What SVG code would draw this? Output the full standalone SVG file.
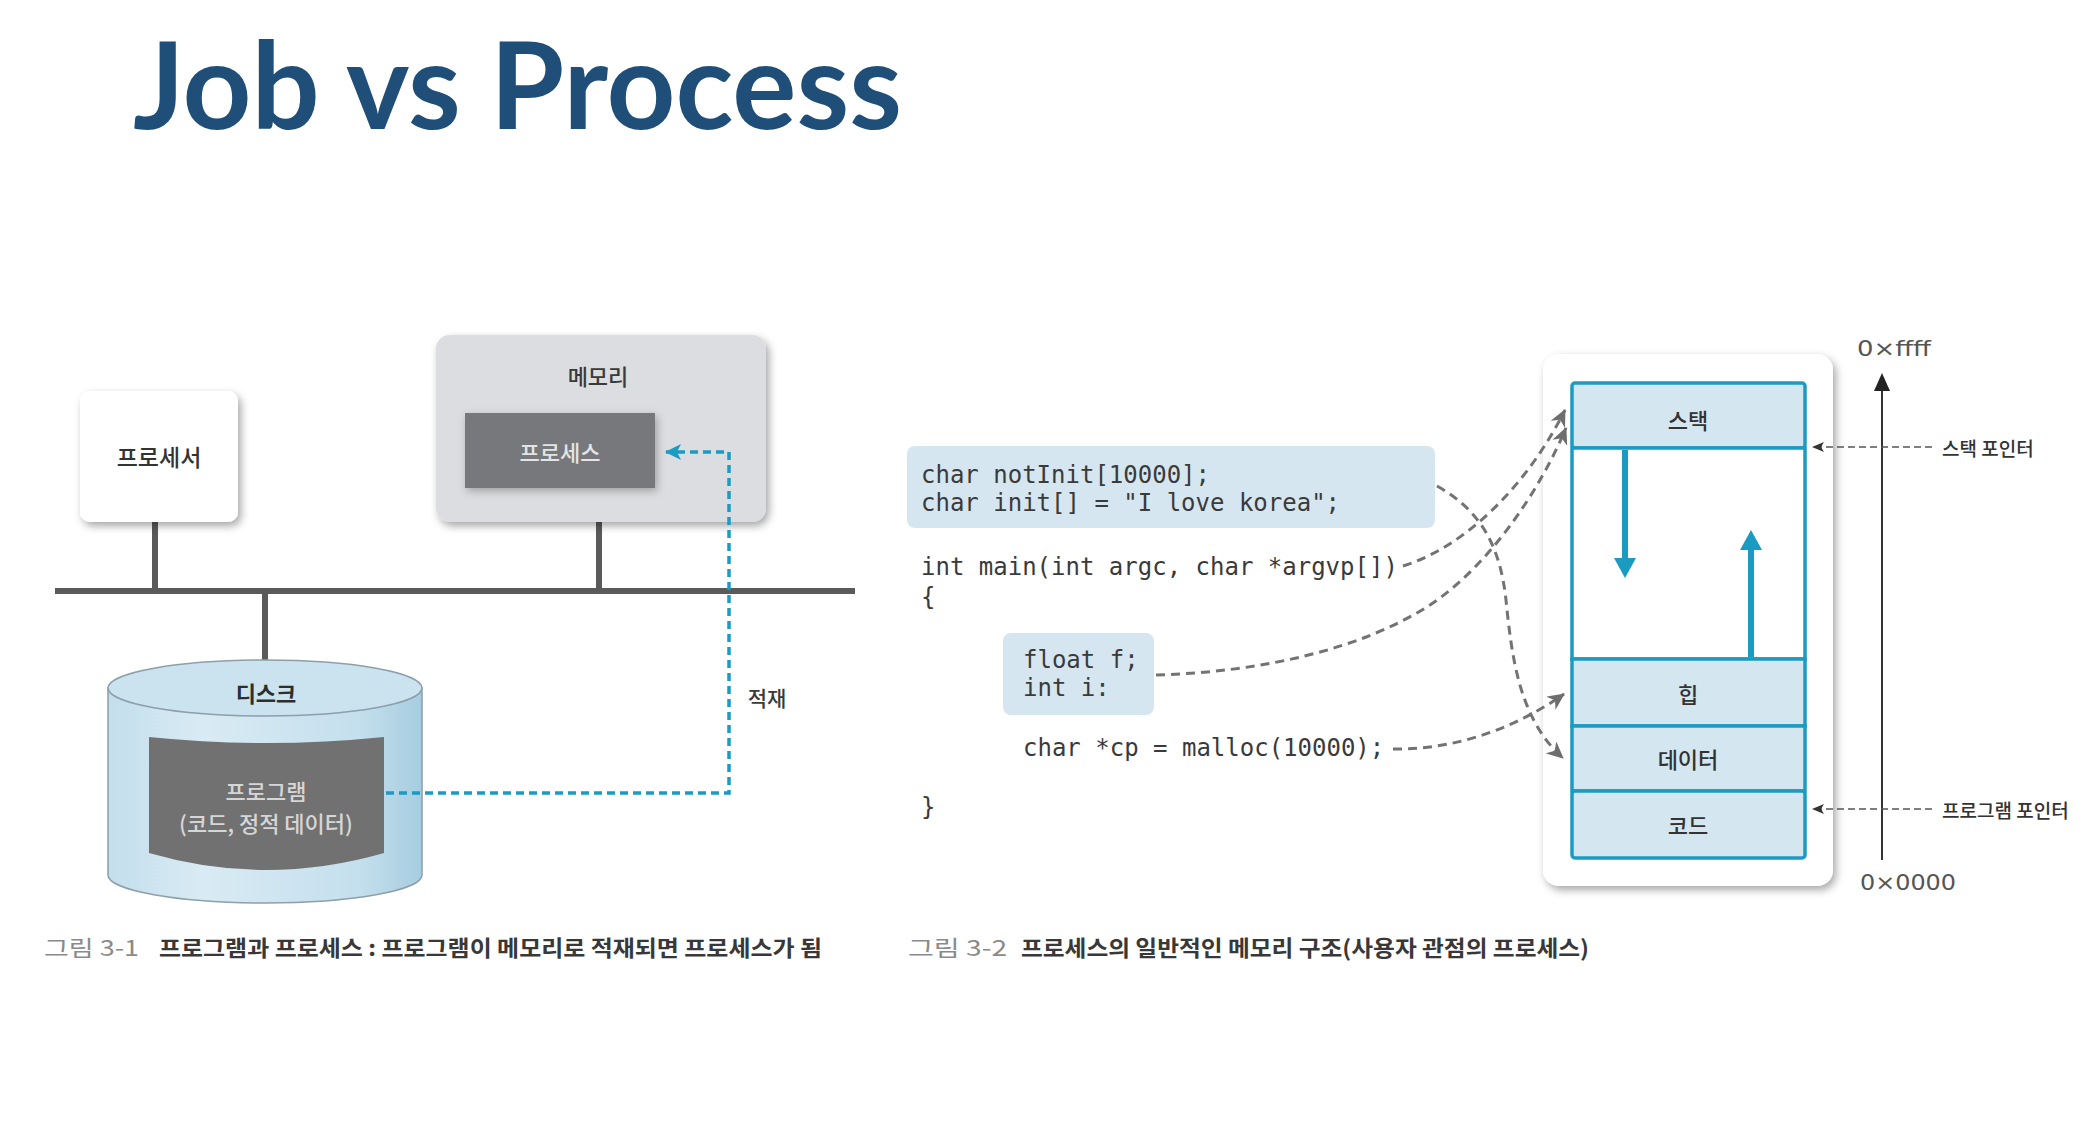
<svg xmlns="http://www.w3.org/2000/svg" width="2085" height="1121" viewBox="0 0 2085 1121">
  <defs>
    <style>
      .ko { font-family: "Noto Sans CJK KR", "Noto Sans", sans-serif; font-weight: 500; dominant-baseline: central; text-anchor: middle; }
      .ko-left { font-family: "Noto Sans CJK KR", "Noto Sans", sans-serif; font-weight: 500; dominant-baseline: central; text-anchor: start; }
      .code { font-family: "DejaVu Sans Mono", "Liberation Mono", monospace; font-size: 24px; fill: #3a3a3a; }
      .seg { fill: #d4e6f0; stroke: #1c9bc2; stroke-width: 3.5; }
      .gdash { fill: none; stroke: #737373; stroke-width: 3; stroke-dasharray: 9 6; marker-end: url(#garrow); }
      .pdash { fill: none; stroke: #555; stroke-width: 1.6; stroke-dasharray: 7 4; marker-end: url(#parrow); }
      .wire { stroke: #5a5a5a; stroke-width: 6; }
      .addr { font-family: "DejaVu Sans", "Liberation Sans", sans-serif; font-size: 21px; fill: #555; dominant-baseline: central; }
      .cap-num { font-family: "Noto Sans CJK KR", "Noto Sans", sans-serif; font-size: 22px; fill: #8a8a8a; dominant-baseline: central; }
      .cap { font-family: "Noto Sans CJK KR", "Noto Sans", sans-serif; font-size: 22px; fill: #383838; font-weight: 700; dominant-baseline: central; }
    </style>
    <filter id="shadow" x="-20%" y="-20%" width="140%" height="140%">
      <feDropShadow dx="3" dy="4" stdDeviation="4" flood-color="#000" flood-opacity="0.35"/>
    </filter>
    <filter id="softshadow" x="-20%" y="-20%" width="140%" height="140%">
      <feDropShadow dx="2" dy="3" stdDeviation="4" flood-color="#000" flood-opacity="0.28"/>
    </filter>
    <linearGradient id="cyl" x1="0" y1="0" x2="1" y2="0">
      <stop offset="0" stop-color="#c3deec"/>
      <stop offset="0.3" stop-color="#d9ebf4"/>
      <stop offset="0.8" stop-color="#c4dfed"/>
      <stop offset="1" stop-color="#a6cde0"/>
    </linearGradient>
    <marker id="garrow" markerUnits="userSpaceOnUse" markerWidth="20" markerHeight="16" refX="16" refY="8" orient="auto">
      <path d="M0,0 L17,8 L0,16 L5,8 Z" fill="#6e6e6e"/>
    </marker>
    <marker id="parrow" markerUnits="userSpaceOnUse" markerWidth="14" markerHeight="10" refX="12" refY="5" orient="auto">
      <path d="M0,0 L12,5 L0,10 L3,5 Z" fill="#333"/>
    </marker>
    <marker id="carrow" markerUnits="userSpaceOnUse" markerWidth="18" markerHeight="16" refX="15" refY="8" orient="auto">
      <path d="M0,0 L16,8 L0,16 L4,8 Z" fill="#1c9bc2"/>
    </marker>
  </defs>

  <rect width="2085" height="1121" fill="#ffffff"/>

  <!-- title -->
  <text x="133" y="129" font-family="Lato, Open Sans, Liberation Sans, sans-serif" font-weight="700" font-size="120" fill="#1f4e79" textLength="769" lengthAdjust="spacingAndGlyphs">Job vs Process</text>

  <!-- ===== program vs process ===== -->
  <g id="bus">
    <line class="wire" x1="55" y1="591" x2="855" y2="591" stroke-width="7"/>
    <line class="wire" x1="155" y1="520" x2="155" y2="591"/>
    <line class="wire" x1="599" y1="521" x2="599" y2="591"/>
    <line class="wire" x1="265" y1="591" x2="265" y2="662"/>
  </g>

  <g id="processor">
    <rect x="80" y="391" width="158" height="131" rx="10" fill="#ffffff" filter="url(#shadow)"/>
    <text class="ko" x="159" y="456" font-size="23" fill="#333">프로세서</text>
  </g>

  <g id="memory">
    <rect x="436" y="335" width="330" height="187" rx="14" fill="#dcdde0" filter="url(#shadow)"/>
    <text class="ko" x="598" y="375" font-size="22" fill="#3a3a3a">메모리</text>
  </g>

  <g id="process">
    <rect x="465" y="413" width="190" height="75" fill="#77787b" filter="url(#softshadow)"/>
    <text class="ko" x="560" y="451" font-size="22" fill="#e4e4e4">프로세스</text>
  </g>

  <g id="disk">
    <path d="M108 688 L108 875 A157 28 0 0 0 422 875 L422 688 Z" fill="url(#cyl)" stroke="#8c9fab" stroke-width="1.5"/>
    <ellipse cx="265" cy="688" rx="157" ry="28" fill="#cbe3ef" stroke="#8c9fab" stroke-width="1.5"/>
    <text class="ko" x="266" y="692" font-size="22" style="font-weight:700" fill="#2e2e2e">디스크</text>
  </g>

  <g id="program">
    <path d="M149 737 Q266 749 384 737 L384 853 Q266 887 149 853 Z" fill="#717171"/>
    <text class="ko" x="266" y="790" font-size="22" fill="#d6d6d6">프로그램</text>
    <text class="ko" x="266" y="822" font-size="22" fill="#d6d6d6">(코드, 정적 데이터)</text>
  </g>

  <g id="load-edge">
    <path d="M386 793 H729 V452 H666" fill="none" stroke="#1c9bc2" stroke-width="3.5" stroke-dasharray="8 5" marker-end="url(#carrow)"/>
    <text class="ko" x="767" y="697" font-size="21" fill="#3a3a3a">적재</text>
  </g>

  <!-- ===== memory layout ===== -->
  <g id="code-globals">
    <rect x="907" y="446" width="528" height="82" rx="8" fill="#d5e6f0"/>
    <text class="code" x="921" y="483" xml:space="preserve">char notInit[10000];</text>
    <text class="code" x="921" y="511" xml:space="preserve">char init[] = "I love korea";</text>
  </g>

  <g id="code-main">
    <text class="code" x="921" y="575" xml:space="preserve">int main(int argc, char *argvp[])</text>
    <text class="code" x="921" y="605">{</text>
    <text class="code" x="1023" y="756" xml:space="preserve">char *cp = malloc(10000);</text>
    <text class="code" x="921" y="815">}</text>
  </g>

  <g id="code-locals">
    <rect x="1003" y="633" width="151" height="82" rx="8" fill="#d5e6f0"/>
    <text class="code" x="1023" y="668" xml:space="preserve">float f;</text>
    <text class="code" x="1023" y="696" xml:space="preserve">int i:</text>
  </g>

  <g id="address-space">
    <rect x="1543" y="354" width="290" height="532" rx="16" fill="#ffffff" filter="url(#shadow)"/>
  </g>

  <g id="stack">
    <rect class="seg" x="1572" y="383" width="233" height="65" rx="3"/>
    <text class="ko" x="1688" y="419" font-size="22" fill="#333">스택</text>
  </g>

  <g id="free">
    <rect x="1572" y="448" width="233" height="211" fill="#ffffff" stroke="#1c9bc2" stroke-width="3.5"/>
    <line x1="1625" y1="450" x2="1625" y2="562" stroke="#1c9bc2" stroke-width="6"/>
    <polygon points="1614,558 1636,558 1625,578" fill="#1c9bc2"/>
    <line x1="1751" y1="657" x2="1751" y2="546" stroke="#1c9bc2" stroke-width="6"/>
    <polygon points="1740,550 1762,550 1751,530" fill="#1c9bc2"/>
  </g>

  <g id="heap">
    <rect class="seg" x="1572" y="659" width="233" height="67"/>
    <text class="ko" x="1688" y="693" font-size="22" fill="#333">힙</text>
  </g>

  <g id="data">
    <rect class="seg" x="1572" y="726" width="233" height="65"/>
    <text class="ko" x="1688" y="758" font-size="22" fill="#333">데이터</text>
  </g>

  <g id="code">
    <rect class="seg" x="1572" y="791" width="233" height="67" rx="3"/>
    <text class="ko" x="1688" y="824" font-size="22" fill="#333">코드</text>
  </g>

  <g id="address-axis">
    <line x1="1882" y1="860" x2="1882" y2="388" stroke="#333" stroke-width="2"/>
    <polygon points="1874,391 1890,391 1882,373" fill="#222"/>
    <text class="addr" x="1857" y="349" textLength="74" lengthAdjust="spacingAndGlyphs">0×ffff</text>
    <text class="addr" x="1860" y="883" textLength="96" lengthAdjust="spacingAndGlyphs">0×0000</text>
  </g>

  <g id="stack-pointer">
    <text class="ko-left" x="1942" y="447" font-size="19" fill="#333">스택 포인터</text>
  </g>

  <g id="program-pointer">
    <text class="ko-left" x="1942" y="809" font-size="19" fill="#333">프로그램 포인터</text>
  </g>

  <!-- connectors -->
  <g id="connectors">
    <path class="gdash" d="M1437 486 C1480 510 1500 545 1506 600 C1512 660 1520 720 1563 758"/>
    <path class="gdash" d="M1403 566 C1470 545 1530 480 1565 410"/>
    <path class="gdash" d="M1156 675 C1260 672 1360 650 1430 605 C1490 565 1540 490 1566 428"/>
    <path class="gdash" d="M1393 749 C1460 750 1520 725 1564 694"/>
    <path class="pdash" d="M1932 447 H1812"/>
    <path class="pdash" d="M1932 809 H1812"/>
  </g>

  <!-- captions -->
  <text class="cap-num" x="44" y="946" textLength="95" lengthAdjust="spacingAndGlyphs">그림 3-1</text>
  <text class="cap" x="159" y="946" textLength="663" lengthAdjust="spacingAndGlyphs">프로그램과 프로세스 : 프로그램이 메모리로 적재되면 프로세스가 됨</text>
  <text class="cap-num" x="908" y="946" textLength="99" lengthAdjust="spacingAndGlyphs">그림 3-2</text>
  <text class="cap" x="1021" y="946" textLength="568" lengthAdjust="spacingAndGlyphs">프로세스의 일반적인 메모리 구조(사용자 관점의 프로세스)</text>
</svg>
